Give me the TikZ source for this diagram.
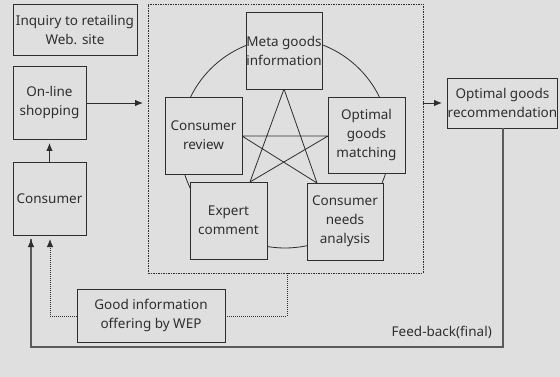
\documentclass[tikz,border=0pt]{standalone}
\usepackage{fontspec}
\setmainfont{Noto Sans}
\usetikzlibrary{arrows.meta,calc}
\definecolor{bgc}{HTML}{DEDFDE}
\definecolor{ink}{HTML}{2E2E2E}
\definecolor{fbk}{HTML}{5A5A5A}
\begin{document}
\begin{tikzpicture}[x=1pt,y=-1pt,
  box/.style={draw=ink,line width=0.9pt,fill=bgc,inner sep=0pt,align=center,font=\fontsize{13.5}{19}\selectfont,text=ink},
  arr/.style={-{Latex[length=8pt,width=6.5pt]},ink,line width=0.9pt},
  dotl/.style={ink,line width=0.8pt,dash pattern=on 1pt off 1pt},
  lbl/.style={font=\fontsize{13.5}{19}\selectfont,text=ink,inner sep=0pt}]
\fill[bgc] (0,0) rectangle (560,377);
\useasboundingbox (0,0) rectangle (560,377);
% dotted frame
\node[draw=ink,line width=0.8pt,dash pattern=on 1.5pt off 1pt,inner sep=0pt,minimum width=275pt,minimum height=269pt] (frame) at (285.5,138.5) {};
% circle
\node[draw=ink,line width=0.8pt,circle,minimum size=210pt,inner sep=0pt] (circ) at (285,143) {};
% boxes
\node[box,minimum width=124pt,minimum height=51pt] (inq) at (75,29.5) {Inquiry to retailing\\Web. site};
\node[box,minimum width=73pt,minimum height=73pt] (onl) at (49.5,102.5) {On-line\\shopping};
\node[box,minimum width=73pt,minimum height=73pt] (con) at (49.5,198.5) {Consumer};
% star lines
\coordinate (sT) at (284,89);
\coordinate (sL) at (242,136);
\coordinate (sR) at (328,136);
\coordinate (sBL) at (250,182);
\coordinate (sBR) at (317,183);
\draw[ink,line width=0.8pt] (sT) -- (sBL) (sT) -- (sBR) (sL) -- (sR) (sL) -- (sBR) (sR) -- (sBL);
\node[box,minimum width=76pt,minimum height=77pt] (meta) at (284,50.5) {Meta goods\\information};
\node[box,minimum width=77pt,minimum height=77pt] (rev) at (203.5,135.5) {Consumer\\review};
\node[box,minimum width=77pt,minimum height=76pt] (match) at (366.5,135) {Optimal\\goods\\matching};
\node[box,minimum width=77pt,minimum height=77pt] (exp) at (228.5,220.5) {Expert\\comment};
\node[box,minimum width=76pt,minimum height=77pt] (needs) at (345,221.5) {Consumer\\needs\\analysis};
\node[box,minimum width=109pt,minimum height=50pt] (rec) at (502.5,103) {Optimal goods\\recommendation};
\node[box,minimum width=148pt,minimum height=53pt] (wep) at (151,315.5) {Good information\\offering by WEP};
% arrows
\coordinate (a1) at (49.5,143);
\draw[arr] (con.north) -- (a1);
\coordinate (a2) at (143,103);
\draw[arr] (onl.east |- a2) -- (a2);
\coordinate (a3s) at (423,103);
\coordinate (a3) at (442,103);
\draw[arr] (a3s) -- (a3);
% feedback
\coordinate (fb1) at (503,347);
\coordinate (fb2) at (31,347);
\coordinate (fb3) at (31,239);
\draw[fbk,line width=1.3pt] (rec.south -| fb1) -- (fb1) -- (fb2) -- (fb3);
\draw[arr] (31,246) -- (fb3);
\node[lbl,anchor=south east] (fbl) at (492,339) {Feed-back(final)};
% dotted wep lines
\coordinate (w1) at (50,316);
\coordinate (w2) at (50,246);
\coordinate (w3) at (50,239);
\draw[dotl] (wep.west |- w1) -- (w1) -- (w2);
\draw[arr] (w2) -- (w3);
\coordinate (w4) at (287,316);
\draw[dotl] (wep.east |- w4) -- (w4) -- (w4 |- frame.south);
\end{tikzpicture}
\end{document}
